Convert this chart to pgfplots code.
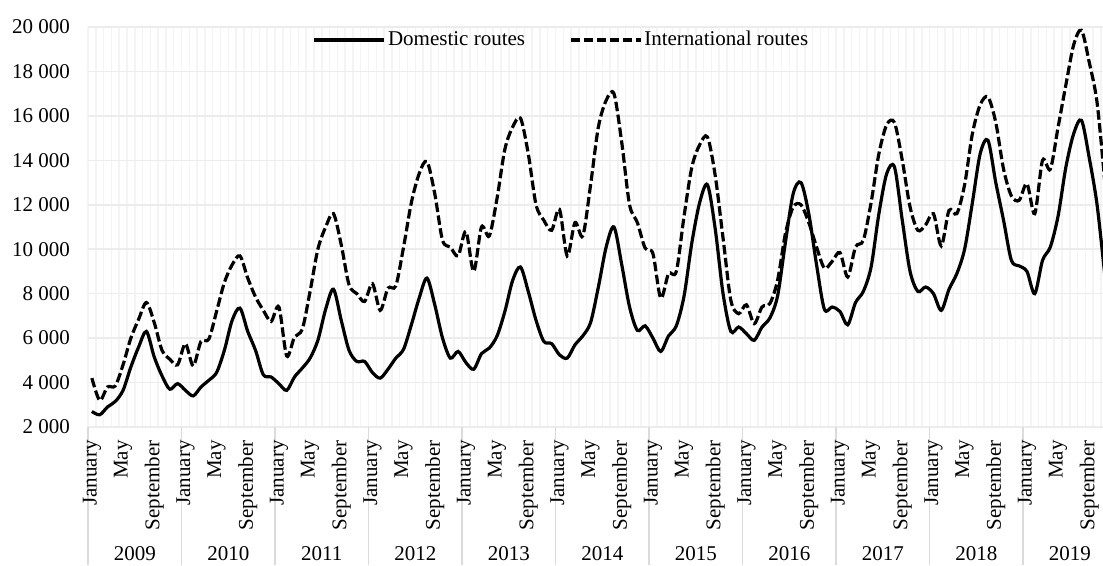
\documentclass[border=0pt]{standalone}
\usepackage{fontspec}
\setmainfont{Liberation Serif}
\usepackage{pgfplots}
\usepackage{pgfplotstable}
\pgfplotsset{compat=1.18}

\pgfplotstableread{
i dom int
0 2700 4200
1 2550 3200
2 2900 3800
3 3150 3850
4 3650 4800
5 4700 6000
6 5600 6850
7 6300 7600
8 5150 6700
9 4300 5450
10 3700 5050
11 3950 4800
12 3650 5750
13 3400 4750
14 3800 5850
15 4100 5950
16 4450 7200
17 5450 8500
18 6800 9300
19 7350 9700
20 6300 8700
21 5450 7850
22 4350 7250
23 4250 6750
24 3950 7400
25 3650 5200
26 4250 6050
27 4650 6400
28 5100 8100
29 5900 10000
30 7300 11000
31 8200 11600
32 6800 10200
33 5450 8400
34 4950 8000
35 4950 7650
36 4450 8450
37 4200 7250
38 4600 8250
39 5100 8350
40 5500 10100
41 6600 12100
42 7800 13400
43 8700 13950
44 7500 12500
45 6000 10400
46 5100 10100
47 5400 9700
48 4900 10800
49 4600 9000
50 5300 11000
51 5550 10600
52 6100 12300
53 7200 14500
54 8600 15500
55 9200 15900
56 8100 14300
57 6800 12000
58 5850 11300
59 5750 10850
60 5250 11800
61 5100 9700
62 5700 11200
63 6100 10600
64 6700 12900
65 8300 15500
66 10100 16700
67 11000 17000
68 9300 14800
69 7400 12000
70 6350 11200
71 6550 10050
72 6000 9800
73 5400 7800
74 6100 8900
75 6550 9000
76 7900 11500
77 10300 13700
78 12100 14700
79 12900 15050
80 10900 13300
81 8000 10500
82 6300 7700
83 6500 7100
84 6200 7500
85 5900 6650
86 6500 7400
87 6900 7550
88 7900 8600
89 10300 10700
90 12500 11900
91 13000 12000
92 11600 11200
93 9300 10100
94 7300 9150
95 7400 9450
96 7200 9850
97 6600 8750
98 7600 10100
99 8100 10400
100 9200 12100
101 11600 14300
102 13400 15600
103 13700 15700
104 11300 14000
105 9000 11900
106 8100 10850
107 8300 11100
108 8000 11600
109 7250 10150
110 8200 11750
111 8900 11600
112 10000 12900
113 12100 15200
114 14300 16500
115 14900 16850
116 13000 15700
117 11300 13600
118 9500 12400
119 9250 12200
120 9000 12950
121 8000 11600
122 9500 14000
123 10100 13600
124 11500 15500
125 13700 17400
126 15200 19200
127 15800 19850
128 14100 18400
129 12000 16600
130 8800 13000
}\datatable

\begin{document}
\fontsize{21}{25}\selectfont
\begin{tikzpicture}[font=\fontsize{21}{25}\selectfont]
\begin{axis}[
  set layers,
  scale only axis, width=1015pt, height=400pt,
  xmin=-0.5, xmax=129.76, ymin=2000, ymax=20000,
  axis line style={draw=none},
  tick pos=left,
  major tick length=0pt, minor tick length=0pt,
  ytick={2000,4000,...,20000},
  scaled y ticks=false,
  /pgf/number format/1000 sep={\ },
  /pgf/number format/assume math mode=true,
  y tick label style={xshift=-11pt},
  xtick={0,4,...,128},
  xticklabels={January,May,September,January,May,September,January,May,September,January,May,September,January,May,September,January,May,September,January,May,September,January,May,September,January,May,September,January,May,September,January,May,September},
  x tick label style={rotate=90, anchor=east, xshift=-6pt},
  minor xtick={-0.5,0.5,...,130.5},
  xmajorgrids=false, xminorgrids=true, ymajorgrids=true,
  major grid style={draw=gray!15, line width=1.5pt},
  minor grid style={draw=gray!9, line width=1.5pt},
  extra y ticks={2000}, extra y tick labels={},
  extra y tick style={grid style={draw=gray!30, line width=1.5pt}},
  extra x ticks={-0.5,11.5,...,119.5}, extra x tick labels={},
  extra x tick style={grid=none, major tick length=138pt, tick align=outside,
     tick style={draw=gray!28, line width=1.3pt}},
  legend columns=2,
  legend style={at={(0.4665,1)}, anchor=north, draw=none, fill=none,
     /tikz/every even column/.append style={column sep=42pt}},
  legend image code/.code={\draw[#1] (0pt,0pt) -- (70pt,0pt);},
]
\addplot[black, line width=3.2pt, smooth] table[x=i,y=dom]{\datatable};
\addplot[black, line width=3.2pt, smooth, dash pattern=on 9.5pt off 3.5pt] table[x=i,y=int]{\datatable};
\legend{Domestic routes, International routes}
\end{axis}
\foreach \k/\y in {0/2009,1/2010,2/2011,3/2012,4/2013,5/2014,6/2015,7/2016,8/2017,9/2018,10/2019}
  \node at ([xshift={(6+12*\k)*7.792pt}, yshift=-127pt]current axis.south west) {\y};
\pgfresetboundingbox
\path[use as bounding box] ([xshift=-88pt,yshift=-138pt]current axis.south west) rectangle ([xshift=1015pt,yshift=427pt]current axis.south west);
\end{tikzpicture}
\end{document}
